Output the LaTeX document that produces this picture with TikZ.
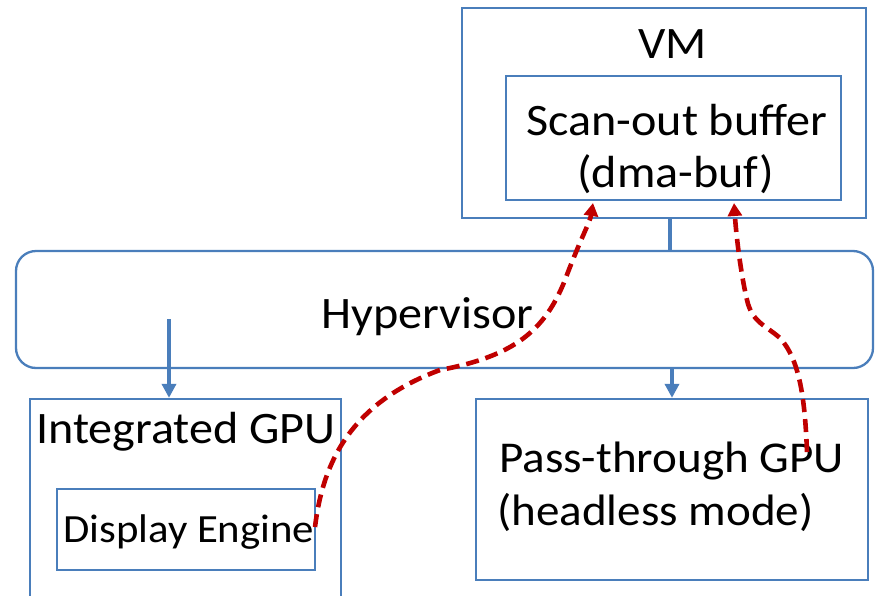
\documentclass[tikz,border=0pt]{standalone}
\usepackage{fontspec}
\setmainfont{Carlito}[FakeStretch=1.07]
\usetikzlibrary{arrows.meta}
\definecolor{boxblue}{HTML}{4A7EBB}
\definecolor{flowred}{HTML}{C00000}
\begin{document}
\begin{tikzpicture}[x=1pt,y=-1pt,
  box/.style={draw=boxblue, line width=2.3pt, inner sep=0pt, rectangle},
  lbl/.style={anchor=base west, inner sep=0pt, text=black},
  big/.style={font=\fontsize{45}{52}\selectfont},
  link/.style={draw=boxblue, line width=3.5pt},
  feed/.style={link, -{Triangle[width=14pt,length=14pt]}},
  flow/.style={draw=flowred, line width=4.6pt, dash pattern=on 13pt off 7pt,
               -{Triangle[width=14pt,length=13pt]}},
]
\useasboundingbox (0,0) rectangle (876,595);
\clip (0,0) rectangle (876,595);

% boxes
\node[box, minimum width=404pt, minimum height=210pt] (vm) at (664,113) {};
\node[box, minimum width=335pt, minimum height=124pt] (scan) at (673.5,138) {};
\node[box, rounded corners=20pt, minimum width=857pt, minimum height=117pt] (hyp) at (444.5,309.5) {};
\node[box, minimum width=311pt, minimum height=221pt] (igpu) at (185.5,509.5) {};
\node[box, minimum width=258pt, minimum height=81pt] (de) at (186,529.5) {};
\node[box, minimum width=392pt, minimum height=181pt] (pt) at (672,489.5) {};

% labels
\node[lbl, big] (vmt) at (638,58) {VM};
\node[lbl, big] (scant1) at (526,135) {Scan-out buffer};
\node[lbl, big] (scant2) at (577,187) {(dma-buf)};
\node[lbl, big] (hypt) at (321,328) {Hypervisor};
\node[lbl, big] (igput) at (36,443) {Integrated GPU};
\node[lbl, font=\fontsize{40}{48}\selectfont] (det) at (63,542) {Display Engine};
\node[lbl, font=\fontsize{44}{52}\selectfont] (ptt1) at (499,472) {Pass-through GPU};
\node[lbl, font=\fontsize{44}{52}\selectfont] (ptt2) at (497,525) {(headless mode)};

% blue connectors
\coordinate (vmx) at (670,0);
\coordinate (hypsrc) at (169,319);
\coordinate (ptx) at (672,0);
\draw[link] (vm.south -| vmx) -- (hyp.north -| vmx);
\draw[feed] (hypsrc) -- (igpu.north -| hypsrc);
\draw[feed] (hyp.south -| ptx) -- (pt.north -| ptx);

% red dashed data paths
\coordinate (deout) at (315,527);
\coordinate (scanl) at (593,203);
\coordinate (ptout) at (807,452);
\coordinate (scanr) at (734,203);
\draw[flow] (deout) .. controls (322,470) and (345,405) .. (440,370)
  .. controls (515,356) and (545,330) .. (565,280)
  .. controls (580,240) and (590,222) .. (scanl);
\draw[flow] (ptout) .. controls (805,400) and (800,360) .. (780,338)
  .. controls (765,325) and (752,322) .. (747,300)
  .. controls (740,270) and (736,232) .. (scanr);
\end{tikzpicture}
\end{document}
